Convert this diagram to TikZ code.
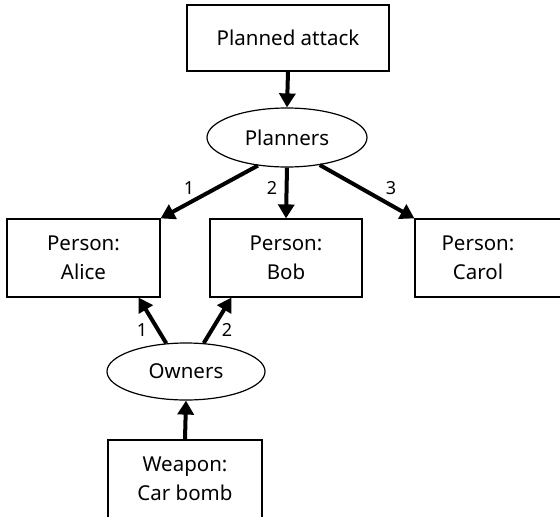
\documentclass[tikz,border=0pt]{standalone}
\usepackage{fontspec}
\setmainfont{Noto Sans}
\usetikzlibrary{shapes.geometric,arrows.meta}
\begin{document}
\begin{tikzpicture}[x=1pt,y=-1pt,
  box/.style={draw=black,line width=1.2pt,rectangle,inner sep=0pt,
    align=center,font=\fontsize{20.5}{29}\selectfont},
  oval/.style={draw=black,line width=1.2pt,ellipse,inner sep=0pt,
    font=\fontsize{20.5}{29}\selectfont},
  link/.style={line width=4pt,-{Triangle[length=14pt,width=16pt]}},
  num/.style={font=\fontsize{18}{20}\selectfont,inner sep=0pt}]
  \useasboundingbox (0,0) rectangle (560,517);

  % event and role nodes
  \node[box,minimum width=202pt,minimum height=66pt] (attack) at (288,38) {Planned attack};
  \node[oval,minimum width=160pt,minimum height=59pt] (planners) at (287,137.5) {Planners};
  \node[box,minimum width=153pt,minimum height=78pt] (alice) at (83.5,258) {Person:\\Alice};
  \node[box,minimum width=152pt,minimum height=78pt] (bob) at (286,258) {Person:\\Bob};
  \node[box,minimum width=153pt,minimum height=78pt] (carolbox) at (491.5,258) {};
  \node[align=center,inner sep=0pt,font=\fontsize{20.5}{29}\selectfont] (carol) at (478,258) {Person:\\Carol};
  \node[oval,minimum width=158pt,minimum height=57pt] (owners) at (186,371.5) {Owners};
  \node[box,minimum width=154pt,minimum height=78pt] (weapon) at (185,479) {Weapon:\\Car bomb};

  % connectors
  \draw[link] (attack.south) -- (planners.north);
  \draw[link] (planners.224) -- (alice.north east);
  \draw[link] (planners.south) -- (bob.north);
  \draw[link] (planners.320) -- (carolbox.north west);
  \draw[link] (owners.125) -- ([xshift=-22pt]alice.south east);
  \draw[link] (owners.58) -- ([xshift=22pt]bob.south west);
  \draw[link] (weapon.north) -- (owners.south);

  % ordinal labels
  \node[num] (p1) at (189,188) {1};
  \node[num] (p2) at (272,188) {2};
  \node[num] (p3) at (391,188) {3};
  \node[num] (o1) at (142,330) {1};
  \node[num] (o2) at (227,330) {2};
\end{tikzpicture}
\end{document}
